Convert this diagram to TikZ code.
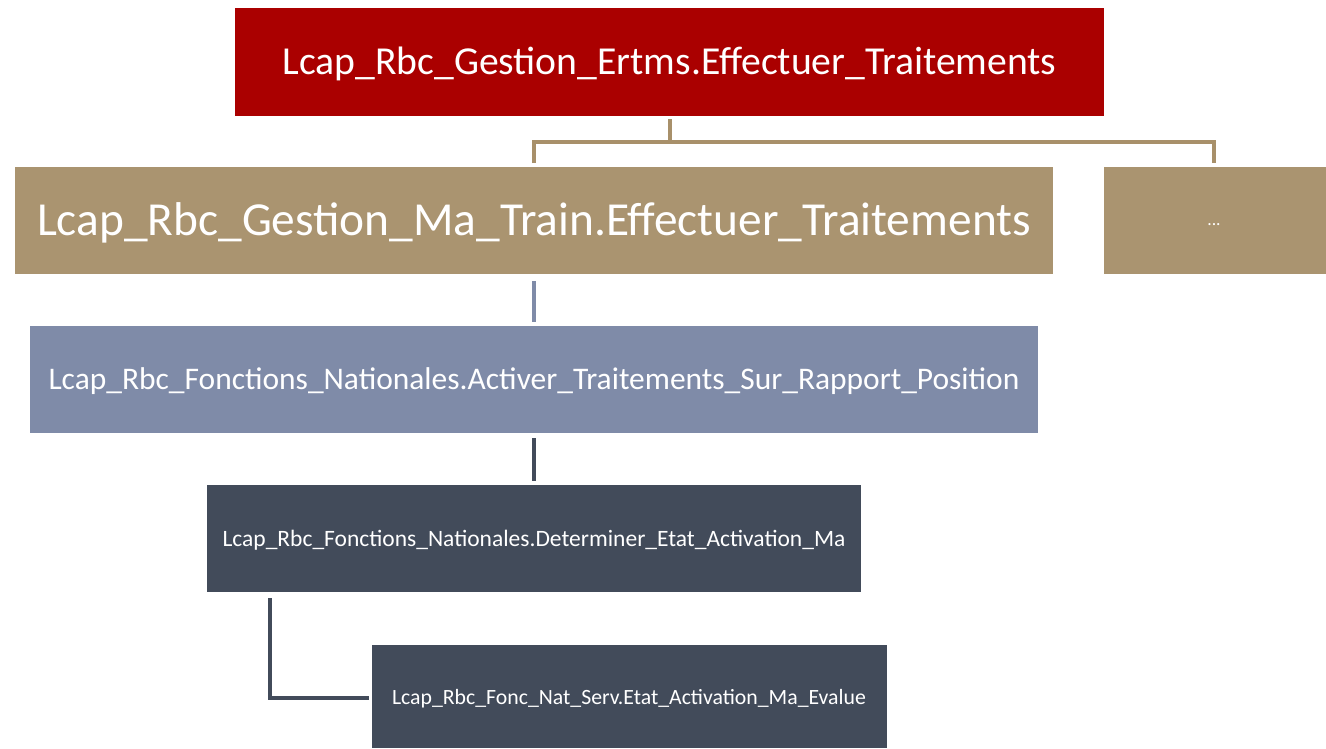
\documentclass[tikz,border=0pt]{standalone}
\usepackage{fontspec}
\setmainfont{Carlito}
\usepackage{graphicx}
\definecolor{cred}{HTML}{AA0000}
\definecolor{ctan}{HTML}{AA9470}
\definecolor{ctanline}{HTML}{A8906A}
\definecolor{cblue}{HTML}{7F8BA8}
\definecolor{cdark}{HTML}{424B5A}
\newcommand{\fitw}[2]{\resizebox{#1}{!}{#2}}
\tikzset{
  box/.style={draw=none, inner sep=0pt, text=white},
  conn/.style={line width=1.8pt},
}
\begin{document}
\begin{tikzpicture}[x=0.02cm,y=-0.02cm]
\useasboundingbox (0,0) rectangle (1326,748);
% boxes
\fill[cred] (235,8) rectangle (1104,116);
\node[box] (top) at (669.5,64) {\fitw{15.48cm}{Lcap\_Rbc\_Gestion\_Ertms.Effectuer\_Traitements}};
\fill[ctan] (15,167) rectangle (1053,274);
\node[box] (tanA) at (534,223) {\fitw{19.88cm}{Lcap\_Rbc\_Gestion\_Ma\_Train.Effectuer\_Traitements}};
\fill[ctan] (1104,167) rectangle (1326,274);
\node[box] (tanB) at (1214,225) {\fontsize{10}{11}\selectfont ...};
\fill[cblue] (30,326) rectangle (1038,433);
\node[box] (blue) at (534,381) {\fitw{19.42cm}{Lcap\_Rbc\_Fonctions\_Nationales.Activer\_Traitements\_Sur\_Rapport\_Position}};
\fill[cdark] (207,485) rectangle (861,592);
\node[box] (dk1) at (534,540) {\fitw{12.46cm}{Lcap\_Rbc\_Fonctions\_Nationales.Determiner\_Etat\_Activation\_Ma}};
\fill[cdark] (372,645) rectangle (887,748);
\node[box] (dk2) at (629,699) {\fitw{9.48cm}{Lcap\_Rbc\_Fonc\_Nat\_Serv.Etat\_Activation\_Ma\_Evalue}};
% connector anchors
\coordinate (c1) at (670,119);
\coordinate (c2) at (670,142);
\coordinate (c3) at (534,142);
\coordinate (c4) at (534,163);
\coordinate (c5) at (1214,142);
\coordinate (c6) at (1214,163);
\draw[conn, ctanline] (c1) -- (c2);
\draw[conn, ctanline] (c4) -- (c3) -- (c5) -- (c6);
\coordinate (b1) at (534,281);
\coordinate (b2) at (534,322);
\draw[conn, cblue] (b1) -- (b2);
\coordinate (d1) at (534,438);
\coordinate (d2) at (534,481);
\draw[conn, cdark] (d1) -- (d2);
\coordinate (e1) at (270,598);
\coordinate (e2) at (270,698);
\coordinate (e3) at (369,698);
\draw[conn, cdark] (e1) -- (e2) -- (e3);
\end{tikzpicture}
\end{document}
